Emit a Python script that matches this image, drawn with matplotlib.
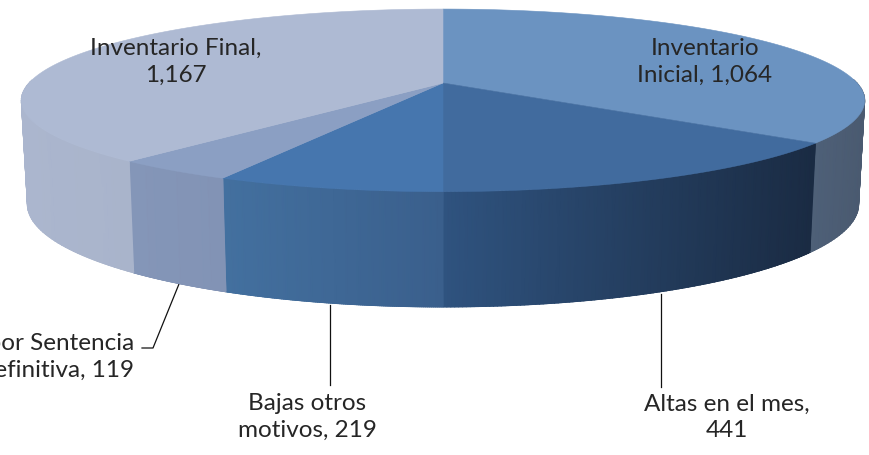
import numpy as np
import matplotlib
matplotlib.use("Agg")
import matplotlib.pyplot as plt
from matplotlib.colors import LinearSegmentedColormap

# Slices clockwise from the top of the pie
categories = ["Inventario Inicial", "Altas en el mes", "Bajas otros motivos",
              "Bajas por Sentencia Definitiva", "Inventario Final"]
values = [1064, 441, 219, 119, 1167]

top_colors = ["#6B93C1", "#416B9E", "#4676AE", "#8B9FC3", "#AEBAD3"]
wall_left = ["#4E6078", "#2F537F", "#43709F", "#8496B8", "#ABB6CE"]
wall_right = ["#4A5A70", "#1A2B43", "#3A5F8C", "#8293B5", "#A9B4CB"]

plt.rcParams["font.family"] = ["Lato", "DejaVu Sans"]

# Perspective of the pie, in pixels
persp = 0.19
cx = 443
top_a, top_b, top_y = 414, 88, 84
bot_a, bot_b, bot_y = 408, 99, 185.6


def rim(theta, a, b, y0):
    s = 1 / (1 + persp * np.cos(theta))
    return cx + a * np.sin(theta) * s, y0 - b * np.cos(theta) * s


fig = plt.figure(figsize=(8.7, 4.56), dpi=100)
ax = fig.add_axes([0, 0, 1, 1])
ax.set_xlim(0, 870)
ax.set_ylim(456, 0)
ax.axis("off")

edges = np.concatenate([[0], np.cumsum(values)]) / sum(values) * 2 * np.pi

# Walls first, only the part that faces the viewer
for i in range(len(values)):
    th = np.linspace(edges[i], edges[i + 1], 120)
    th = th[np.cos(th) < 0.05]
    tx, ty = rim(th, top_a, top_b, top_y)
    bx, by = rim(th, bot_a, bot_b, bot_y)
    cmap = LinearSegmentedColormap.from_list("wall", [wall_left[i], wall_right[i]])
    t = (tx - tx.min()) / (tx.max() - tx.min())
    ax.pcolormesh(np.array([tx, bx]), np.array([ty, by]), np.array([t, t]),
                  cmap=cmap, vmin=0, vmax=1, shading="gouraud", zorder=2)
    # soft lower rim, the gouraud mesh has hard edges
    for j in range(len(th) - 1):
        ax.plot(bx[j:j + 2], by[j:j + 2], color=cmap(t[j]), lw=0.9,
                solid_capstyle="round", zorder=2.5)

# Top face
for i in range(len(values)):
    th = np.linspace(edges[i], edges[i + 1], 200)
    tx, ty = rim(th, top_a, top_b, top_y)
    ax.fill(np.r_[cx, tx], np.r_[top_y, ty], color=top_colors[i], lw=0.4, zorder=5)

# Leader lines
ax.plot([179, 153, 142], [285, 349, 349], color="#111111", lw=0.9, zorder=1)
ax.plot([330, 330], [306, 386], color="#111111", lw=0.9, zorder=1)
ax.plot([661, 661], [295, 388], color="#111111", lw=0.9, zorder=1)

txt = dict(color="#262626", fontsize=17.5, va="center", zorder=7)
ax.text(176, 62, "Inventario Final,\n1,167", ha="center", linespacing=1.36, **txt)
ax.text(705, 62, "Inventario\nInicial, 1,064", ha="center", linespacing=1.36, **txt)
ax.text(134, 357, "Bajas por Sentencia\nDefinitiva, 119", ha="right", linespacing=1.3, **txt)
ax.text(307, 417, "Bajas otros\nmotivos, 219", ha="center", linespacing=1.3, **txt)
ax.text(727, 417, "Altas en el mes,\n441", ha="center", linespacing=1.3, **txt)

fig.savefig("out.png", dpi=100)
